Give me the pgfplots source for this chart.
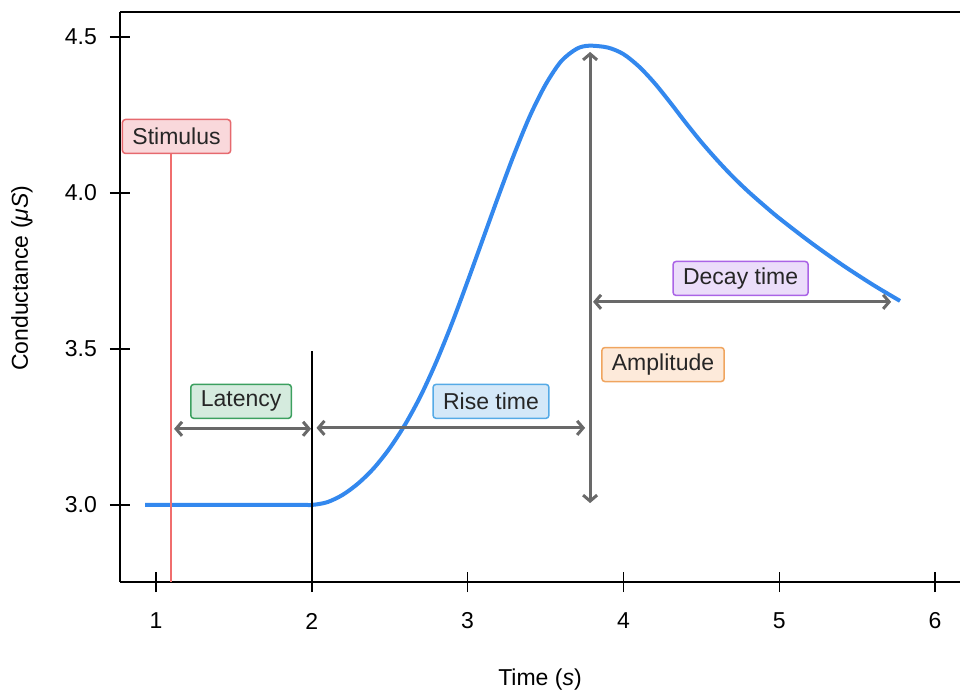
\documentclass[border=0pt]{standalone}
\usepackage{pgfplots}
\pgfplotsset{compat=1.18}
\usepackage{fontspec}
\setmainfont{Liberation Sans}
\usetikzlibrary{arrows.meta}

\definecolor{curveblue}{RGB}{51,136,238}
\definecolor{arrowgray}{RGB}{105,105,105}
\definecolor{stimline}{RGB}{240,110,110}
\definecolor{stimfill}{RGB}{249,216,219}
\definecolor{stimdraw}{RGB}{230,105,110}
\definecolor{latfill}{RGB}{213,235,222}
\definecolor{latdraw}{RGB}{60,160,95}
\definecolor{risefill}{RGB}{212,232,248}
\definecolor{risedraw}{RGB}{85,170,230}
\definecolor{ampfill}{RGB}{253,234,218}
\definecolor{ampdraw}{RGB}{240,165,95}
\definecolor{decfill}{RGB}{235,221,250}
\definecolor{decdraw}{RGB}{170,100,230}

\begin{document}
\fontsize{11.5}{14}\selectfont
\begin{tikzpicture}[
  tag/.style={draw, rounded corners=1.5pt, line width=0.75pt, inner xsep=5pt,
    inner ysep=0pt, minimum height=17pt, text=black!85},
  span/.style={draw=arrowgray, line width=1.5pt,
    {Straight Barb[length=3pt,width=7pt]}-{Straight Barb[length=3pt,width=7pt]}}
]
\begin{axis}[
  scale only axis, width=420pt, height=285pt,
  xmin=0.769, xmax=6.16, ymin=2.753, ymax=4.58,
  axis lines=left, axis line style={-, line width=1pt},
  tick align=center, major tick length=10pt,
  every tick/.style={black, line width=0.75pt},
  xtick={1,2,3,4,5,6}, ytick={3,3.5,4,4.5},
  /pgf/number format/assume math mode=true,
  xticklabel style={anchor=center, yshift=-14.5pt},
  yticklabel style={anchor=east, xshift=-2.5pt,
    /pgf/number format/.cd, fixed, fixed zerofill, precision=1},
  xlabel={Time (\textit{s})},
  ylabel={Conductance (\textit{μS})},
  xlabel style={at={(axis description cs:0.5,-0.172)}, anchor=center},
  ylabel style={at={(axis description cs:-0.1167,0.533)}, anchor=center},
  clip=false,
]
\coordinate (bl) at (rel axis cs:0,0);
\coordinate (tr) at (rel axis cs:1,1);
\draw[line width=1pt] (rel axis cs:0,1) -- (rel axis cs:1,1);

\addplot[curveblue, line width=2pt, smooth] coordinates {
  (0.93,3.0) (1.9,3.0) (2.0,3.0) (2.1,3.009) (2.2,3.033) (2.3,3.07)
  (2.4,3.119) (2.5,3.182) (2.6,3.259) (2.7,3.351) (2.8,3.46) (2.9,3.583)
  (3.0,3.717) (3.1,3.855) (3.2,3.993) (3.3,4.126) (3.4,4.247) (3.5,4.347)
  (3.6,4.422) (3.7,4.462) (3.78,4.472) (3.9,4.466) (4.0,4.445) (4.1,4.405)
  (4.2,4.352) (4.3,4.29) (4.4,4.225) (4.5,4.163) (4.6,4.106) (4.7,4.053)
  (4.8,4.005) (4.9,3.961) (5.0,3.919) (5.2,3.842) (5.4,3.771) (5.6,3.706)
  (5.775,3.654)
};

\draw[stimline, line width=0.75pt] (axis cs:1.096,2.753) -- (axis cs:1.096,4.125);
\draw[black, line width=0.75pt] (axis cs:2.0,2.753) -- (axis cs:2.0,3.494);

\draw[span] (axis cs:1.116,3.244) -- (axis cs:1.995,3.244);
\draw[span] (axis cs:2.03,3.247) -- (axis cs:3.754,3.247);
\draw[span] (axis cs:3.786,4.452) -- (axis cs:3.786,3.006);
\draw[span] (axis cs:3.805,3.651) -- (axis cs:5.718,3.651);

\node[tag, draw=stimdraw, fill=stimfill] at (axis cs:1.132,4.181) {Stimulus};
\node[tag, draw=latdraw, fill=latfill] at (axis cs:1.546,3.332) {Latency};
\node[tag, draw=risedraw, fill=risefill] at (axis cs:3.15,3.332) {Rise time};
\node[tag, draw=ampdraw, fill=ampfill] at (axis cs:4.254,3.45) {Amplitude};
\node[tag, draw=decdraw, fill=decfill] at (axis cs:4.752,3.726) {Decay time};
\end{axis}
\pgfresetboundingbox
\path[use as bounding box] ([xshift=-60pt,yshift=-55.5pt]bl) rectangle ([yshift=6pt]tr);
\end{tikzpicture}
\end{document}
